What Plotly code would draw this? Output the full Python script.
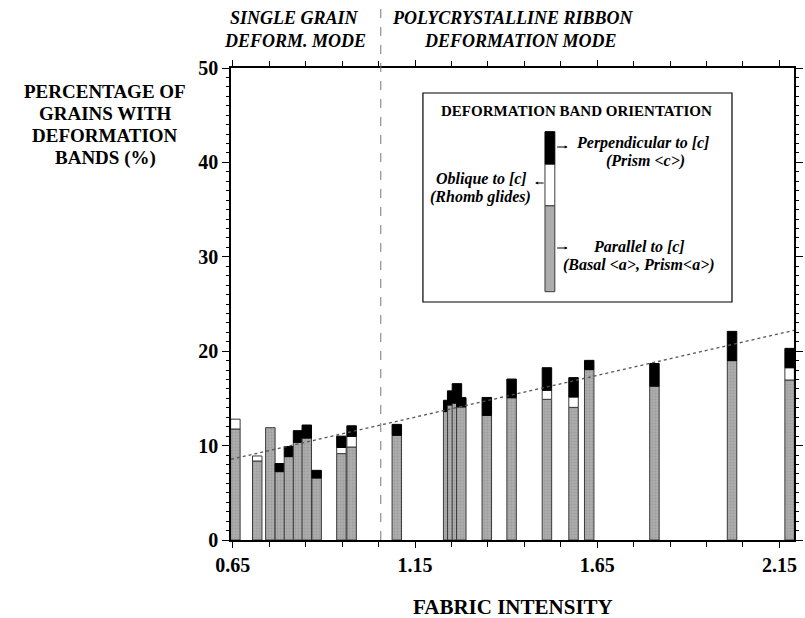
import plotly.graph_objects as go

# ---- data ----
fabric_intensity = [0.657, 0.717, 0.753, 0.779, 0.804, 0.829, 0.853, 0.880, 0.948, 0.976,
                    1.100, 1.241, 1.252, 1.265, 1.277, 1.347, 1.415, 1.512, 1.585, 1.628,
                    1.807, 2.020, 2.178]
parallel_c = [11.76, 8.37, 11.9, 7.24, 8.83, 10.35, 10.8, 6.57, 9.15, 9.85,
              11.09, 13.6, 14.3, 14.5, 14.1, 13.2, 15.07, 14.9, 14.05, 18.05,
              16.3, 19.0, 16.95]
oblique_c = [1.04, 0.53, 0.0, 0.0, 0.0, 0.0, 0.0, 0.0, 0.65, 1.13,
             0.0, 0.0, 0.0, 0.0, 0.0, 0.0, 0.0, 0.96, 1.1, 0.0,
             0.0, 0.0, 1.3]
perpendicular_c = [0.0, 0.0, 0.0, 0.86, 1.07, 1.23, 1.38, 0.81, 1.2, 1.12,
                   1.16, 1.2, 1.5, 2.06, 0.98, 1.9, 1.98, 2.39, 2.05, 0.98,
                   2.4, 3.1, 2.05]
trend_x = [0.645, 2.19]
trend_y = [8.55, 22.21]
mode_boundary = 1.056
x_tick_vals = [0.65, 1.15, 1.65, 2.15]
x_tick_text = ["0.65", "1.15", "1.65", "2.15"]
y_tick_vals = [0, 10, 20, 30, 40, 50]

SERIF = "Liberation Serif, Times New Roman, serif"
GRAY = "#adadad"
OUTLINE = "#3a3a3a"
BW = 0.026

fig = go.Figure()

for i, x in enumerate(fabric_intensity):
    g = parallel_c[i]
    w = oblique_c[i]
    k = perpendicular_c[i]
    fig.add_trace(go.Bar(x=[x], y=[g], base=[0], width=BW,
                         marker=dict(color=GRAY, line=dict(color=OUTLINE, width=1),
                                     pattern=dict(shape=".", fgcolor="#8a8a8a", bgcolor=GRAY,
                                                  size=3, solidity=0.35)),
                         showlegend=False, hoverinfo="skip"))
    if w > 0:
        fig.add_trace(go.Bar(x=[x], y=[w], base=[g], width=BW,
                             marker=dict(color="white", line=dict(color=OUTLINE, width=1)),
                             showlegend=False, hoverinfo="skip"))
    if k > 0:
        fig.add_trace(go.Bar(x=[x], y=[k], base=[g + w], width=BW,
                             marker=dict(color="black", line=dict(color="black", width=1)),
                             showlegend=False, hoverinfo="skip"))

fig.add_trace(go.Scatter(x=trend_x, y=trend_y, mode="lines",
                         line=dict(color="#555555", width=1.3, dash="dot"),
                         showlegend=False, hoverinfo="skip"))

axis_font = dict(family=SERIF, size=20, color="black", weight="bold")

fig.update_layout(
    width=805, height=618,
    margin=dict(l=231, r=2, t=68, b=78),
    paper_bgcolor="white", plot_bgcolor="white",
    barmode="overlay",
    font=dict(family=SERIF, color="black"),
    xaxis=dict(range=[0.645, 2.19], tickvals=x_tick_vals, ticktext=x_tick_text,
               ticks="outside", ticklen=6, tickwidth=1, tickcolor="black",
               minor=dict(dtick=0.1, tick0=0.65, ticks="outside", ticklen=5, tickcolor="black"),
               showline=True, linecolor="black", linewidth=1.5, mirror="ticks",
               showgrid=False, zeroline=False, tickfont=axis_font),
    yaxis=dict(range=[0, 50], tickvals=y_tick_vals,
               ticks="outside", ticklen=7, tickwidth=1, tickcolor="black",
               minor=dict(dtick=1, tick0=0, ticks="outside", ticklen=3, tickcolor="black"),
               showline=True, linecolor="black", linewidth=1.5, mirror="ticks",
               showgrid=False, zeroline=False, tickfont=axis_font),
)

# boundary between deformation modes
fig.add_shape(type="line", x0=mode_boundary, x1=mode_boundary, xref="x",
              y0=0, y1=1.135, yref="paper",
              line=dict(color="#777777", width=1, dash="dash"))


def ann(text, x, y, size, italic=False, xref="paper", yref="paper", xanchor="center"):
    t = f"<b>{text}</b>"
    if italic:
        t = f"<i>{t}</i>"
    fig.add_annotation(text=t, x=x, y=y, xref=xref, yref=yref, showarrow=False,
                       xanchor=xanchor, yanchor="middle",
                       font=dict(family=SERIF, size=size, color="black"))


# pixel -> paper helpers (plot area: x 231..803, y 68..540)
def px(xp):
    return (xp - 231) / 572.0


def py(yp):
    return (540 - yp) / 472.0


# y-axis title
for line, yy in [("PERCENTAGE OF", 92), ("GRAINS WITH", 114), ("DEFORMATION", 136), ("BANDS (%)", 158)]:
    ann(line, px(103), py(yy), 19)

# x-axis title
ann("FABRIC INTENSITY", px(518), py(607), 21)

# mode headers
ann("SINGLE GRAIN", px(296), py(18), 18, italic=True)
ann("DEFORM. MODE", px(296), py(41), 18, italic=True)
ann("POLYCRYSTALLINE RIBBON", px(517), py(18), 18, italic=True)
ann("DEFORMATION MODE", px(525), py(41), 18, italic=True)

# legend box
fig.add_shape(type="rect", xref="paper", yref="paper",
              x0=px(426), x1=px(740), y0=py(302), y1=py(93),
              line=dict(color="black", width=1.2), fillcolor="white", layer="below")
ann("DEFORMATION BAND ORIENTATION", px(582), py(111), 15)

# legend sample bar
fig.add_shape(type="rect", xref="paper", yref="paper", x0=px(550), x1=px(560),
              y0=py(291.7), y1=py(205.7), line=dict(color=OUTLINE, width=1),
              fillcolor=GRAY)
fig.add_shape(type="rect", xref="paper", yref="paper", x0=px(550), x1=px(560),
              y0=py(205.7), y1=py(164), line=dict(color=OUTLINE, width=1),
              fillcolor="white")
fig.add_shape(type="rect", xref="paper", yref="paper", x0=px(550), x1=px(560),
              y0=py(164), y1=py(131.7), line=dict(color="black", width=1),
              fillcolor="black")

ann("Perpendicular to [c]", px(649), py(143), 16, italic=True)
ann("(Prism &lt;c&gt;)", px(652), py(161), 16, italic=True)
ann("Oblique to [c]", px(486), py(179), 16, italic=True)
ann("(Rhomb glides)", px(484), py(197), 16, italic=True)
ann("Parallel to [c]", px(646), py(246), 16, italic=True)
ann("(Basal &lt;a&gt;, Prism&lt;a&gt;)", px(646), py(265), 16, italic=True)

# small pointer arrows
for (x_head, y_head, dx) in [(573, 147, -12), (540, 183, 10), (573, 248, -12)]:
    fig.add_annotation(x=px(x_head), y=py(y_head), xref="paper", yref="paper",
                       ax=dx, ay=0, text="", showarrow=True, arrowhead=2,
                       arrowsize=0.6, arrowwidth=1, arrowcolor="black")

fig.write_html("out.html", config={"displayModeBar": False},
               post_script="document.body.style.margin='0';document.body.style.padding='0';")
